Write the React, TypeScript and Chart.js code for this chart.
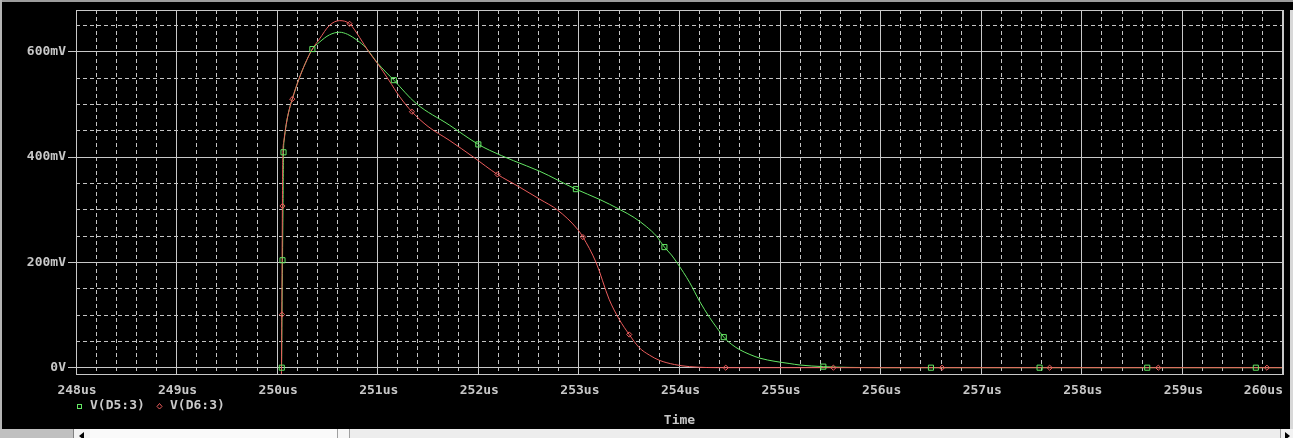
import React, { useEffect, useRef } from "react";
import { Chart, registerables } from "chart.js";

Chart.register(...registerables);

// ---- data (time in us, voltage in mV) ----
const d5Time = [
  250.044, 250.048, 250.053, 250.058, 250.063, 250.07, 250.09, 250.12, 250.15, 250.22,
  250.28, 250.35, 250.42, 250.52, 250.62, 250.7, 250.8, 250.88, 251.0, 251.16,
  251.38, 251.71, 252.0, 252.11, 252.35, 252.61, 252.97, 253.2, 253.41, 253.55,
  253.67, 253.77, 253.85, 253.92, 253.98, 254.1, 254.2, 254.3, 254.37, 254.44,
  254.52, 254.6, 254.7, 254.8, 254.95, 255.09, 255.2, 255.43, 255.7, 256.0, 260.0,
];
const d5Volt = [
  0, 100, 204, 300, 409, 432, 462, 490, 510, 550,
  578, 605, 618, 632, 637, 633, 621, 608, 578, 546,
  502, 461, 424, 413, 393, 373, 339, 320, 300, 285,
  268, 250, 229, 214, 198, 162, 126, 95, 76, 58,
  44, 34, 25, 18, 12, 8, 5, 2, 0.5, 0, 0,
];

const d6Time = [
  250.04, 250.043, 250.046, 250.049, 250.052, 250.056, 250.065, 250.09, 250.12, 250.15,
  250.22, 250.28, 250.35, 250.42, 250.52, 250.62, 250.72, 250.82, 250.91, 251.0,
  251.11, 251.22, 251.34, 251.5, 251.71, 251.95, 252.19, 252.4, 252.61, 252.79,
  252.99, 253.04, 253.17, 253.3, 253.4, 253.5, 253.6, 253.7, 253.8, 253.95,
  254.1, 254.46, 260.0,
];
const d6Volt = [
  -40, 0, 101, 200, 307, 400, 428, 462, 490, 510,
  550, 578, 605, 624, 650, 659, 653, 627, 600, 577,
  546, 514, 486, 458, 432, 400, 367, 344, 320, 299,
  262, 248, 200, 130, 92, 63, 38, 24, 14, 6,
  2, 0, 0,
];

const d5MarkTime = [250.046, 250.053, 250.063, 250.35, 251.16, 252.0, 252.97, 253.85, 254.44, 255.43, 256.5, 257.58, 258.65, 259.73];
const d5MarkVolt = [0, 204, 409, 605, 546, 424, 339, 229, 58, 2, 0, 0, 0, 0];
const d6MarkTime = [250.048, 250.053, 250.15, 250.72, 251.34, 252.19, 253.04, 253.5, 254.46, 255.53, 256.61, 257.68, 258.76, 259.84];
const d6MarkVolt = [101, 307, 510, 653, 486, 367, 248, 63, 0, 0, 0, 0, 0, 0];

const xTickValues = [248, 249, 250, 251, 252, 253, 254, 255, 256, 257, 258, 259, 260];
const xTickLabels = ["248us", "249us", "250us", "251us", "252us", "253us", "254us", "255us", "256us", "257us", "258us", "259us", "260us"];
const yTickValues = [0, 200, 400, 600];
const yTickLabels = ["0V", "200mV", "400mV", "600mV"];
const seriesNames = ["V(D5:3)", "V(D6:3)"];
const axisTitle = "Time";

const GREEN = "#64e664";
const RED = "#ec5c5c";
const TEXT = "#c8c8c8";
const GRID = "#c8c8c8";
const GRID_MINOR = "#c4c4c4";
const FONT = '"DejaVu Sans Mono", monospace';

const isMajorX = (v: number) => Math.abs(v - Math.round(v)) < 1e-6;
const isMajorY = (v: number) => Math.abs(v / 200 - Math.round(v / 200)) < 1e-6;

const overlayPlugin = {
  id: "pspiceOverlay",
  afterDraw(chart: any) {
    const { ctx, chartArea: ca, scales } = chart;
    ctx.save();
    // plot border
    ctx.strokeStyle = GRID;
    ctx.lineWidth = 1;
    ctx.setLineDash([]);
    const l = Math.round(ca.left) + 0.5;
    const t = Math.round(ca.top) + 0.5;
    const r = Math.round(ca.right) - 0.5;
    const b = Math.round(ca.bottom) - 0.5;
    ctx.strokeRect(l, t, r - l, b - t);

    // x tick labels
    ctx.font = `bold 13px ${FONT}`;
    ctx.fillStyle = TEXT;
    ctx.textBaseline = "middle";
    ctx.textAlign = "center";
    const xs = scales.x;
    xTickValues.forEach((v, i) => {
      const px = xs.getPixelForValue(v);
      const w = ctx.measureText(xTickLabels[i]).width;
      const cx = Math.min(px + 1, ca.right - w / 2);
      ctx.fillText(xTickLabels[i], cx, 391);
    });

    // legend
    ctx.textAlign = "left";
    ctx.strokeStyle = GREEN;
    ctx.strokeRect(77.5, 404.5, 4, 4);
    ctx.fillText(seriesNames[0], 90, 406);
    ctx.strokeStyle = RED;
    ctx.beginPath();
    ctx.moveTo(159.5, 403.5);
    ctx.lineTo(162, 406.5);
    ctx.lineTo(159.5, 409);
    ctx.lineTo(157, 406.5);
    ctx.closePath();
    ctx.stroke();
    ctx.fillText(seriesNames[1], 170, 406);

    // axis title
    ctx.textAlign = "center";
    ctx.fillText(axisTitle, (ca.left + ca.right) / 2, 421);
    ctx.restore();
  },
};

export default function App() {
  const ref = useRef<HTMLCanvasElement>(null);

  useEffect(() => {
    document.body.style.margin = "0";
    document.body.style.background = "#000";
    const toXY = (ts: number[], vs: number[]) => ts.map((x, i) => ({ x, y: vs[i] }));
    const chart = new Chart(ref.current as HTMLCanvasElement, {
      type: "scatter",
      data: {
        datasets: [
          {
            label: seriesNames[0] + " markers",
            data: toXY(d5MarkTime, d5MarkVolt),
            showLine: false,
            pointStyle: "rect",
            pointRadius: 3.6,
            pointBorderWidth: 1,
            pointBorderColor: GREEN,
            pointBackgroundColor: "rgba(0,0,0,0)",
            order: 0,
          },
          {
            label: seriesNames[1] + " markers",
            data: toXY(d6MarkTime, d6MarkVolt),
            showLine: false,
            pointStyle: "rectRot",
            pointRadius: 2.6,
            pointBorderWidth: 1,
            pointBorderColor: RED,
            pointBackgroundColor: "rgba(0,0,0,0)",
            order: 0,
          },
          {
            label: seriesNames[1],
            data: toXY(d6Time, d6Volt),
            showLine: true,
            borderColor: RED,
            borderWidth: 1,
            pointRadius: 0,
            cubicInterpolationMode: "monotone",
            order: 1,
          },
          {
            label: seriesNames[0],
            data: toXY(d5Time, d5Volt),
            showLine: true,
            borderColor: GREEN,
            borderWidth: 1,
            pointRadius: 0,
            cubicInterpolationMode: "monotone",
            order: 2,
          },
        ],
      },
      options: {
        animation: false,
        responsive: false,
        devicePixelRatio: 1,
        layout: { padding: { top: 10, right: 10, left: 0, bottom: 0 } },
        plugins: { legend: { display: false }, tooltip: { enabled: false } },
        scales: {
          x: {
            type: "linear",
            min: 248,
            max: 260,
            afterFit: (s: any) => {
              s.height = 63;
              s.paddingLeft = 0;
              s.paddingRight = 0;
            },
            ticks: { display: false, stepSize: 0.2, autoSkip: false },
            grid: {
              color: (c: any) => (c.tick && isMajorX(c.tick.value) ? GRID : GRID_MINOR),
              lineWidth: 1,
              drawTicks: false,
            },
            border: {
              display: false,
              dash: (c: any) => (c.tick && !isMajorX(c.tick.value) ? [4, 3] : []),
            },
          },
          y: {
            type: "linear",
            min: -13.9,
            max: 679.2,
            afterFit: (s: any) => {
              s.width = 76;
              s.paddingTop = 0;
              s.paddingBottom = 0;
            },
            ticks: {
              stepSize: 50,
              includeBounds: false,
              autoSkip: false,
              padding: 2,
              color: TEXT,
              font: { family: FONT, size: 13, weight: "bold" },
              callback: (v: any) => {
                const i = yTickValues.indexOf(Number(v));
                return i >= 0 ? yTickLabels[i] : "";
              },
            },
            grid: {
              color: (c: any) => (c.tick && isMajorY(c.tick.value) ? GRID : GRID_MINOR),
              lineWidth: 1,
              drawTicks: true,
              tickLength: 8,
              tickColor: (c: any) => (c.tick && isMajorY(c.tick.value) ? GRID : "rgba(0,0,0,0)"),
            },
            border: {
              display: false,
              dash: (c: any) => (c.tick && !isMajorY(c.tick.value) ? [4, 3] : []),
            },
          },
        },
      },
      plugins: [overlayPlugin],
    } as any);
    return () => chart.destroy();
  }, []);

  const abs = (l: number, t: number, w: number, h: number, style: any = {}) => ({
    position: "absolute" as const,
    left: l,
    top: t,
    width: w,
    height: h,
    boxSizing: "border-box" as const,
    ...style,
  });

  return (
    <div style={{ position: "relative", width: 1293, height: 438, background: "#000", overflow: "hidden" }}>
      <canvas ref={ref} width={1293} height={438} style={{ position: "absolute", left: 0, top: 0 }} />
      <div style={abs(0, 0, 1293, 2, { background: "#9c9c9c" })} />
      <div style={abs(0, 0, 2, 429, { background: "#b4b4b4" })} />
      <div style={abs(1290, 10, 3, 419, { background: "#d8d8d8" })} />
      <div style={abs(0, 429, 73, 9, { background: "#c0c0c0" })} />
      <div style={abs(73, 429, 17, 9, { background: "#f2f2f2", borderLeft: "1px solid #808080" })}>
        <div style={{ position: "absolute", left: 5, top: 3, width: 0, height: 0, borderTop: "4px solid transparent", borderBottom: "4px solid transparent", borderRight: "5px solid #000" }} />
      </div>
      <div style={abs(90, 429, 247, 9, { background: "#fafafa" })} />
      <div style={abs(337, 429, 13, 9, { background: "#f6f6f6", borderLeft: "1px solid #a0a0a0", borderRight: "1px solid #a0a0a0" })} />
      <div style={abs(350, 429, 930, 9, { background: "#ededed" })} />
      <div style={abs(1280, 429, 13, 9, { background: "#f2f2f2", borderLeft: "1px solid #a0a0a0" })}>
        <div style={{ position: "absolute", left: 4, top: 3, width: 0, height: 0, borderTop: "4px solid transparent", borderBottom: "4px solid transparent", borderLeft: "5px solid #000" }} />
      </div>
    </div>
  );
}
